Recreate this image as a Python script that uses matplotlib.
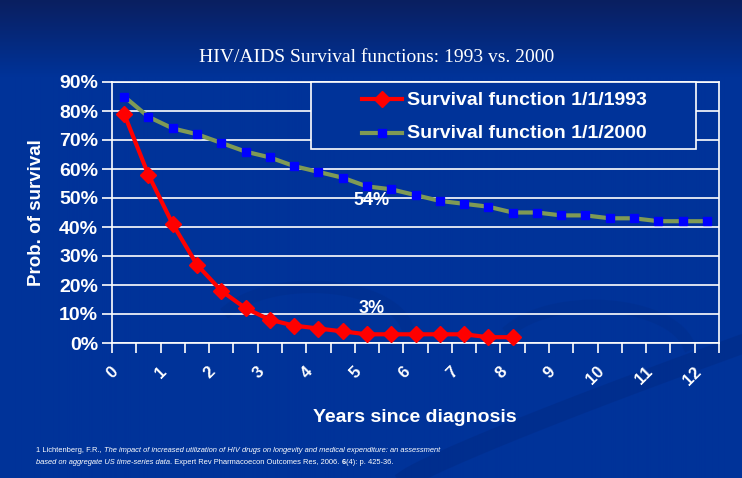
import numpy as np
import matplotlib
matplotlib.use("Agg")
import matplotlib.pyplot as plt
from matplotlib.lines import Line2D
from matplotlib.patches import Rectangle
import matplotlib.transforms as mtransforms

# ---------------- data ----------------
x_labels = ["0", "1", "2", "3", "4", "5", "6", "7", "8", "9", "10", "11", "12"]
surv_1993 = [79, 58, 41, 27, 18, 12, 8, 6, 5, 4, 3, 3, 3, 3, 3, 2, 2]
surv_2000 = [85, 78, 74, 72, 69, 66, 64, 61, 59, 57, 54, 53, 51, 49, 48, 47,
             45, 45, 44, 44, 43, 43, 42, 42, 42]
y_ticks = [0, 10, 20, 30, 40, 50, 60, 70, 80, 90]
annotations = [("54%", 10.2, 49), ("3%", 10.2, 12)]
legend_labels = ["Survival function 1/1/1993", "Survival function 1/1/2000"]
title = "HIV/AIDS Survival functions: 1993 vs. 2000"
ylabel = "Prob. of survival"
xlabel = "Years since diagnosis"

W, H = 742, 478
BG = "#003399"
RED = "#FF0000"
GREEN = "#7F9A55"
BLUE = "#0000FF"
SANS = ["Liberation Sans", "DejaVu Sans"]
SERIF = ["Liberation Serif", "DejaVu Serif"]

fig = plt.figure(figsize=(W / 100, H / 100), dpi=100)
fig.patch.set_facecolor(BG)

# background gradient
bg = fig.add_axes([0, 0, 1, 1], zorder=-10)
bg.axis("off")
top = np.array([0x0a, 0x1f, 0x60]) / 255
mid = np.array([0x00, 0x33, 0x99]) / 255
rows = np.linspace(0, 1, H)
t = np.clip(rows / 0.16, 0, 1)[:, None]
grad = top[None, :] * (1 - t) + mid[None, :] * t
img = np.repeat(grad[:, None, :], 4, axis=1)
bg.imshow(img, aspect="auto", extent=[0, 1, 0, 1], origin="upper")
# faint swirl decorations
xs = np.linspace(0, 1, 300)
bg.plot(0.55 + 0.45 * xs, 0.0 + 0.28 * xs ** 0.9, color="#002a85", lw=14, alpha=0.5)
th = np.linspace(0.2, 2.6, 200)
bg.plot(0.42 + 0.13 * np.cos(th), 0.30 + 0.10 * np.sin(th), color="#002e8c", lw=9, alpha=0.5)
bg.plot(0.80 + 0.13 * np.cos(th), 0.26 + 0.10 * np.sin(th), color="#002e8c", lw=9, alpha=0.5)
bg.set_xlim(0, 1)
bg.set_ylim(0, 1)

# main axes
L, R, B, T = 112 / W, 719 / W, 1 - 343 / H, 1 - 82 / H
ax = fig.add_axes([L, B, R - L, T - B])
ax.set_facecolor("none")
n_cat = len(surv_2000)
ax.set_xlim(-0.5, n_cat - 0.5)
ax.set_ylim(0, 90)

for y in y_ticks:
    ax.axhline(y, color="white", lw=1.2, zorder=1)
for s in ["left", "right", "bottom", "top"]:
    ax.spines[s].set_color("white")
    ax.spines[s].set_linewidth(1.2)

ax.set_yticks(y_ticks)
ax.set_yticklabels([f"{v}%" for v in y_ticks], fontsize=14, fontweight="bold",
                   color="white", family=SANS)
ax.tick_params(axis="y", colors="white", length=7, width=1.2, pad=3)
ax.set_xticks(np.arange(-0.5, n_cat, 1.0))
ax.set_xticklabels([])
ax.tick_params(axis="x", colors="white", length=7, width=1.2)

ax.plot(range(len(surv_2000)), surv_2000, color=GREEN, lw=3, marker="s",
        markersize=6, markerfacecolor=BLUE, markeredgecolor=BLUE, zorder=3,
        clip_on=False)
ax.plot(range(len(surv_1993)), surv_1993, color=RED, lw=3, marker="D",
        markersize=8, markerfacecolor=RED, markeredgecolor=RED, zorder=4,
        clip_on=False)

for txt, xv, yv in annotations:
    ax.text(xv, yv, txt, color="white", fontsize=13, fontweight="bold",
            family=SANS, ha="center", va="center", zorder=5)

# x category labels (every other category)
xt = mtransforms.blended_transform_factory(ax.transData, fig.transFigure)
for i, lab in enumerate(x_labels):
    ax.text(2 * i - 0.55, 1 - 364 / H, lab, transform=xt, rotation=45,
            rotation_mode="anchor", ha="right", va="top", fontsize=12,
            fontweight="bold", color="white", family=SANS)

fig.text(37 / W, 1 - 213 / H, ylabel, rotation=90, ha="center", va="center",
         fontsize=13.5, fontweight="bold", color="white", family=SANS)
fig.text(415 / W, 1 - 417 / H, xlabel, ha="center", va="center",
         fontsize=14, fontweight="bold", color="white", family=SANS)
fig.text(377 / W, 1 - 57 / H, title, ha="center", va="center", fontsize=14,
         color="white", family=SERIF)

# legend box
leg_ax = fig.add_axes([0, 0, 1, 1], zorder=5)
leg_ax.set_xlim(0, W)
leg_ax.set_ylim(H, 0)
leg_ax.axis("off")
leg_ax.add_patch(Rectangle((311, 82), 385, 67, facecolor=BG, edgecolor="white", lw=1.2))
leg_ax.add_line(Line2D([362, 402], [99, 99], color=RED, lw=3))
leg_ax.plot([382], [99], marker="D", markersize=8, color=RED)
leg_ax.add_line(Line2D([362, 402], [133, 133], color=GREEN, lw=3))
leg_ax.plot([382], [133], marker="s", markersize=6, color=BLUE)
leg_ax.text(407, 100, legend_labels[0], ha="left", va="center", fontsize=14,
            fontweight="bold", color="white", family=SANS)
leg_ax.text(407, 134, legend_labels[1], ha="left", va="center", fontsize=14,
            fontweight="bold", color="white", family=SANS)

# footnote with mixed styles
renderer = fig.canvas.get_renderer()
NARROW = ["Liberation Sans Narrow", "Liberation Sans", "DejaVu Sans"]


def write_pieces(x0, y0, pieces):
    x = x0
    for txt, style, weight in pieces:
        t_ = leg_ax.text(x, y0, txt, ha="left", va="center", fontsize=5.45,
                         fontstyle=style, fontweight=weight, color="white",
                         family=NARROW)
        bb = t_.get_window_extent(renderer=renderer)
        x += bb.width


write_pieces(36, 450, [
    ("1 Lichtenberg, F.R., ", "normal", "normal"),
    ("The impact of increased utilization of HIV drugs on longevity and medical expenditure: an assessment",
     "italic", "normal"),
])
write_pieces(36, 462, [
    ("based on aggregate US time-series data", "italic", "normal"),
    (". Expert Rev Pharmacoecon Outcomes Res, 2006. ", "normal", "normal"),
    ("6", "normal", "bold"),
    ("(4): p. 425-36.", "normal", "normal"),
])

fig.savefig("out.png", dpi=100, facecolor=fig.get_facecolor())
